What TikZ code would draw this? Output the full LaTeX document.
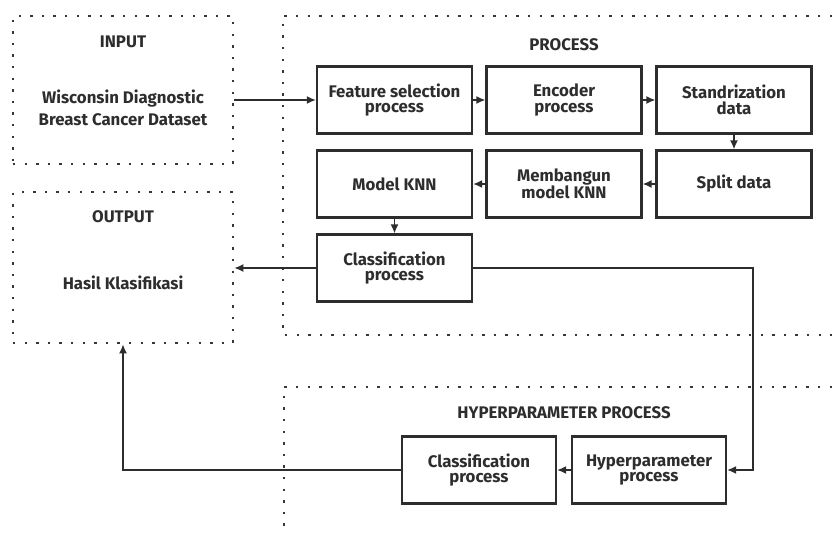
\documentclass[tikz,border=0pt]{standalone}
\usepackage{fontspec}
\setmainfont{Fira Sans}
\usepackage{xcolor}
\usetikzlibrary{arrows.meta}
\definecolor{inkgray}{RGB}{45,45,45}
\definecolor{dotgray}{RGB}{55,55,55}

\begin{document}
\begin{tikzpicture}[x=1pt,y=-1pt,
    font=\fontsize{16.8}{15.5}\selectfont\bfseries,
    every node/.style={text=inkgray},
    procbox/.style={draw=inkgray,line width=2.2pt,minimum width=155pt,minimum height=67pt,align=center,inner sep=0pt},
    groupbox/.style={draw=dotgray,line width=2.6pt,dash pattern=on 2.4pt off 9.2pt},
    link/.style={draw=inkgray,line width=1.6pt,-{Latex[length=9pt,width=8pt]}}]
                \useasboundingbox (0,0) rectangle (832,533);
                % input and output groups
                \node[groupbox,minimum width=220pt,minimum height=148pt] (input) at (123,90) {};
                \node (inlabel) at (123,42) {INPUT};
                \node[align=center] (dataset) at (123,107.5) {Wisconsin Diagnostic\\[5.5pt]Breast Cancer Dataset};
                \node[groupbox,minimum width=220pt,minimum height=151pt] (output) at (123,267.5) {};
                \node (outlabel) at (123,217) {OUTPUT};
                \node (hasil) at (123,283) {Hasil Klasifikasi};
                % process group (open to the right)
                \draw[groupbox] (832,16) -- (283,16) -- (283,335) -- (832,335);
                \node (proclabel) at (564,45) {PROCESS};
                \node[procbox] (feature) at (394.5,100) {Feature selection\\process};
                \node[procbox] (encoder) at (564,100) {Encoder\\process};
                \node[procbox] (standard) at (734,100) {Standrization\\data};
                \node[procbox] (modelknn) at (394.5,184) {Model KNN};
                \node[procbox] (membangun) at (564,184) {Membangun\\model KNN};
                \node[procbox] (split) at (734,184) {Split data};
                \node[procbox] (classif) at (394.5,268) {Classification\\process};
                % hyperparameter group
                \draw[groupbox] (832,387) -- (284,387) -- (284,533);
                \node (hyplabel) at (564,413) {HYPERPARAMETER PROCESS};
                \node[procbox,minimum width=154pt] (classiftwo) at (479,470) {Classification\\process};
                \node[procbox,minimum width=154pt] (hyper) at (649,470) {Hyperparameter\\process};
                % connectors
                \draw[link] (input.east |- feature.west) -- (feature.west);
                \draw[link] (feature) -- (encoder);
                \draw[link] (encoder) -- (standard);
                \draw[link] (standard) -- (split);
                \draw[link] (split) -- (membangun);
                \draw[link] (membangun) -- (modelknn);
                \draw[link] (modelknn) -- (classif);
                \draw[link] (classif.west) -- (classif.west -| output.east);
                \draw[link] (classif.east) -- ++(280,0) |- (hyper.east);
                \draw[link] (hyper) -- (classiftwo);
                \draw[link] (classiftwo.west) -| (output.south);
            \end{tikzpicture}
\end{document}
